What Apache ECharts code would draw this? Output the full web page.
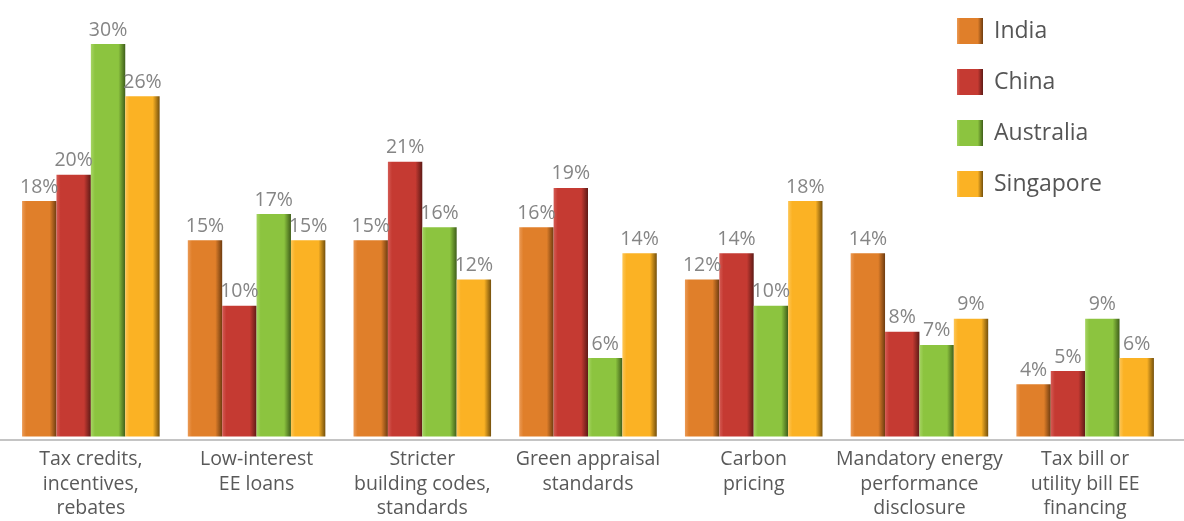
<!DOCTYPE html>
<html>
<head>
<meta charset="utf-8">
<script src="https://cdn.jsdelivr.net/npm/echarts@6/dist/echarts.min.js"></script>
<style>
  html, body { margin: 0; padding: 0; background: #fff; }
  #chart { width: 1184px; height: 521px; }
</style>
</head>
<body>
<div id="chart"></div>
<script>
  const categories = [
    'Tax credits,\nincentives,\nrebates',
    'Low-interest\nEE loans',
    'Stricter\nbuilding codes,\nstandards',
    'Green appraisal\nstandards',
    'Carbon\npricing',
    'Mandatory energy\nperformance\ndisclosure',
    'Tax bill or\nutility bill EE\nfinancing'
  ];
  const india = [18, 15, 15, 16, 12, 14, 4];
  const china = [20, 10, 21, 19, 14, 8, 5];
  const australia = [30, 17, 16, 6, 10, 7, 9];
  const singapore = [26, 15, 12, 14, 18, 9, 6];

  // 按国家配色：亮色 / 主色 / 暗边
  const palette = {
    India: ['#eb9a55', '#e07f2a', '#6e3c10'],
    China: ['#d45b54', '#c53a32', '#5e1a16'],
    Australia: ['#a6d463', '#8cc43f', '#3f5e1a'],
    Singapore: ['#fdc656', '#fbb224', '#74500c']
  };

  const bevel = (c) => new echarts.graphic.LinearGradient(0, 0, 1, 0, [
    { offset: 0, color: c[0] },
    { offset: 0.12, color: c[1] },
    { offset: 0.8, color: c[1] },
    { offset: 1, color: c[2] }
  ]);

  const makeSeries = (name, data) => ({
    name,
    type: 'bar',
    data,
    barGap: 0,
    barCategoryGap: '17%',
    itemStyle: { color: bevel(palette[name]) },
    label: {
      show: true,
      position: 'top',
      distance: 4,
      formatter: '{c}%',
      color: '#858585',
      fontSize: 19.5,
      fontFamily: 'Open Sans'
    }
  });

  const myChart = echarts.init(document.getElementById('chart'));
  myChart.setOption({
    animation: false,
    legend: {
      orient: 'vertical',
      left: 952,
      top: 13,
      icon: 'rect',
      itemWidth: 26,
      itemHeight: 26,
      itemGap: 25,
      textStyle: { color: '#555', fontSize: 23, fontFamily: 'Open Sans', padding: [0, 0, 0, 6] },
      data: Object.keys(palette).map((n) => ({ name: n, itemStyle: { color: bevel(palette[n]) } }))
    },
    grid: { left: 8, right: 16, top: 44, bottom: 81 },
    // 底部横线贯穿整个宽度
    graphic: [{
      type: 'line',
      z: 0,
      shape: { x1: 0, y1: 440, x2: 1184, y2: 440 },
      style: { stroke: '#c4c4c4', lineWidth: 2 }
    }],
    xAxis: {
      type: 'category',
      data: categories,
      axisTick: { show: false },
      axisLine: { show: false },
      axisLabel: {
        color: '#595959',
        fontSize: 19.5,
        lineHeight: 24.5,
        margin: 11,
        fontFamily: 'Open Sans',
        interval: 0
      }
    },
    yAxis: { type: 'value', min: 0, max: 30, show: false },
    series: [
      makeSeries('India', india),
      makeSeries('China', china),
      makeSeries('Australia', australia),
      makeSeries('Singapore', singapore)
    ]
  });
</script>
</body>
</html>
